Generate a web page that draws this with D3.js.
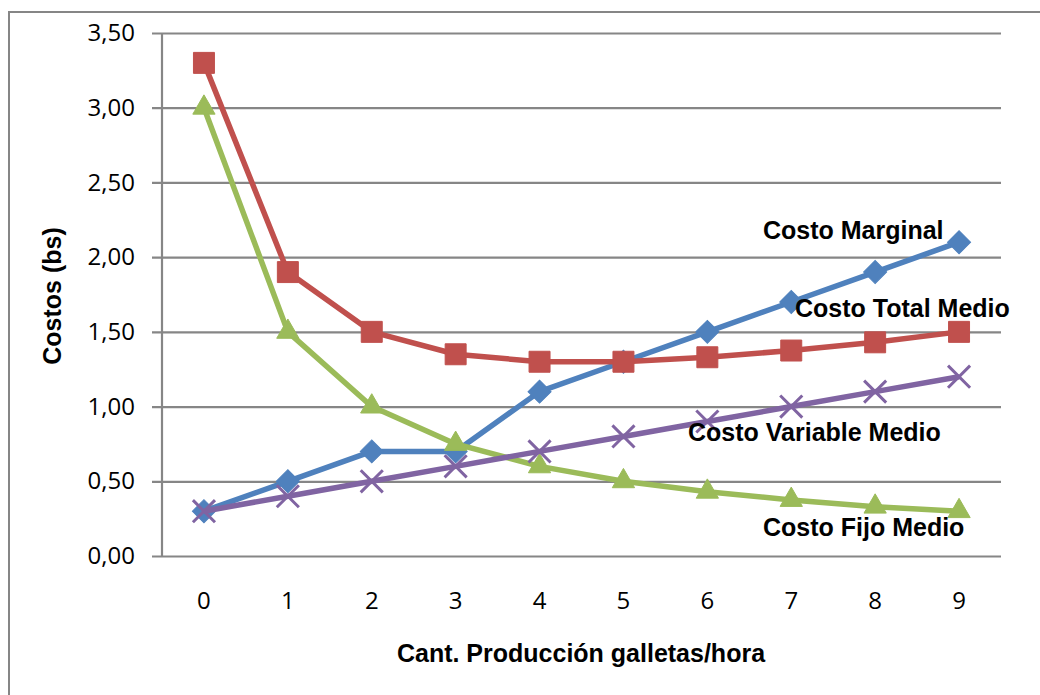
<!DOCTYPE html>
<html>
<head>
<meta charset="utf-8">
<script src="https://cdn.jsdelivr.net/npm/d3@7/dist/d3.min.js"></script>
<style>
  html, body { margin: 0; padding: 0; background: #fff; }
  svg { display: block; }
</style>
</head>
<body>
<svg id="chart" width="1040" height="695"></svg>
<script>
// Producción de galletas por hora (0..9) y sus costos medios/marginal en bs
const quantities = [0, 1, 2, 3, 4, 5, 6, 7, 8, 9];
const costoMarginal = [0.30, 0.50, 0.70, 0.70, 1.10, 1.30, 1.50, 1.70, 1.90, 2.10];
const costoTotalMedio = [3.30, 1.90, 1.50, 1.35, 1.30, 1.30, 1.33, 1.375, 1.43, 1.50];
const costoFijoMedio = [3.00, 1.50, 1.00, 0.75, 0.60, 0.50, 0.43, 0.375, 0.33, 0.30];
const costoVariableMedio = [0.30, 0.40, 0.50, 0.60, 0.70, 0.80, 0.90, 1.00, 1.10, 1.20];
const yTicks = [0, 0.5, 1.0, 1.5, 2.0, 2.5, 3.0, 3.5];
const seriesNames = ["Costo Marginal", "Costo Total Medio", "Costo Fijo Medio", "Costo Variable Medio"];

const svg = d3.select("#chart");
const plot = { left: 162, right: 1001, top: 33, bottom: 556 };
const gridColor = "#868686";

// outer frame (left and top edges)
svg.append("path")
  .attr("d", "M9,695 L9,12 L1040,12")
  .attr("fill", "none")
  .attr("stroke", gridColor)
  .attr("stroke-width", 2);

const x = d3.scaleBand().domain(quantities).range([plot.left, plot.right]);
const y = d3.scaleLinear().domain([0, 3.5]).range([plot.bottom, plot.top]);
const cx = d => x(d) + x.bandwidth() / 2;

const fmt = v => d3.format(".2f")(v).replace(".", ",");

// horizontal gridlines + y ticks
const yAxis = d3.axisLeft(y).tickValues(yTicks).tickFormat(fmt)
  .tickSize(-(plot.right - plot.left)).tickPadding(27);
const gy = svg.append("g").attr("transform", `translate(${plot.left},0)`).call(yAxis);
gy.select(".domain").remove();
gy.selectAll(".tick line").attr("stroke", gridColor).attr("stroke-width", 2.2).attr("x1", -10);
gy.selectAll(".tick text")
  .attr("font-family", "'Open Sans', sans-serif")
  .attr("font-size", 24)
  .attr("fill", "#000");

// vertical axis line
svg.append("line")
  .attr("x1", plot.left).attr("x2", plot.left)
  .attr("y1", plot.top).attr("y2", plot.bottom)
  .attr("stroke", gridColor).attr("stroke-width", 2.2);

// x axis labels
const xAxis = d3.axisBottom(x).tickSize(0).tickPadding(36);
const gx = svg.append("g").attr("transform", `translate(0,${plot.bottom})`).call(xAxis);
gx.select(".domain").remove();
gx.selectAll(".tick text")
  .attr("font-family", "'Open Sans', sans-serif")
  .attr("font-size", 24)
  .attr("fill", "#000");

// axis titles
svg.append("text")
  .attr("x", 581).attr("y", 662)
  .attr("text-anchor", "middle")
  .attr("font-family", "'Liberation Sans', Arial, sans-serif")
  .attr("font-weight", "bold")
  .attr("font-size", 25)
  .text("Cant. Producción galletas/hora");

svg.append("text")
  .attr("transform", "translate(61,296) rotate(-90)")
  .attr("text-anchor", "middle")
  .attr("font-family", "'Liberation Sans', Arial, sans-serif")
  .attr("font-weight", "bold")
  .attr("font-size", 25)
  .text("Costos (bs)");

// series
const series = [
  { name: seriesNames[0], values: costoMarginal, color: "#4F81BD", marker: "diamond" },
  { name: seriesNames[1], values: costoTotalMedio, color: "#C0504D", marker: "square" },
  { name: seriesNames[2], values: costoFijoMedio, color: "#9BBB59", marker: "triangle" },
  { name: seriesNames[3], values: costoVariableMedio, color: "#8064A2", marker: "x" }
];

const line = d3.line().x((d, i) => cx(quantities[i])).y(d => y(d));

const symbols = {
  diamond: d3.symbol().type(d3.symbolSquare).size(265),
  square: d3.symbol().type(d3.symbolSquare).size(440),
  triangle: d3.symbol().type(d3.symbolTriangle).size(215),
  x: d3.symbol().type(d3.symbolX).size(320)
};

series.forEach(s => {
  const g = svg.append("g");
  g.append("path")
    .datum(s.values)
    .attr("d", line)
    .attr("fill", "none")
    .attr("stroke", s.color)
    .attr("stroke-width", 5.5)
    .attr("stroke-linejoin", "round");
  g.selectAll("path.marker")
    .data(s.values)
    .join("path")
    .attr("class", "marker")
    .attr("d", symbols[s.marker]())
    .attr("transform", (d, i) => {
      const t = `translate(${cx(quantities[i])},${y(d)})`;
      return s.marker === "diamond" ? t + " rotate(45)" : t;
    })
    .attr("fill", s.marker === "x" ? "none" : s.color)
    .attr("stroke", s.color)
    .attr("stroke-width", s.marker === "x" ? 3 : 1);
});

// series labels
const labels = [
  { text: seriesNames[0], x: 763, y: 239 },
  { text: seriesNames[1], x: 795, y: 317 },
  { text: seriesNames[3], x: 688, y: 441 },
  { text: seriesNames[2], x: 763, y: 536 }
];
svg.selectAll("text.series-label")
  .data(labels)
  .join("text")
  .attr("class", "series-label")
  .attr("x", d => d.x).attr("y", d => d.y)
  .attr("font-family", "'Liberation Sans', Arial, sans-serif")
  .attr("font-weight", "bold")
  .attr("font-size", 25)
  .attr("fill", "#000")
  .text(d => d.text);
</script>
</body>
</html>
